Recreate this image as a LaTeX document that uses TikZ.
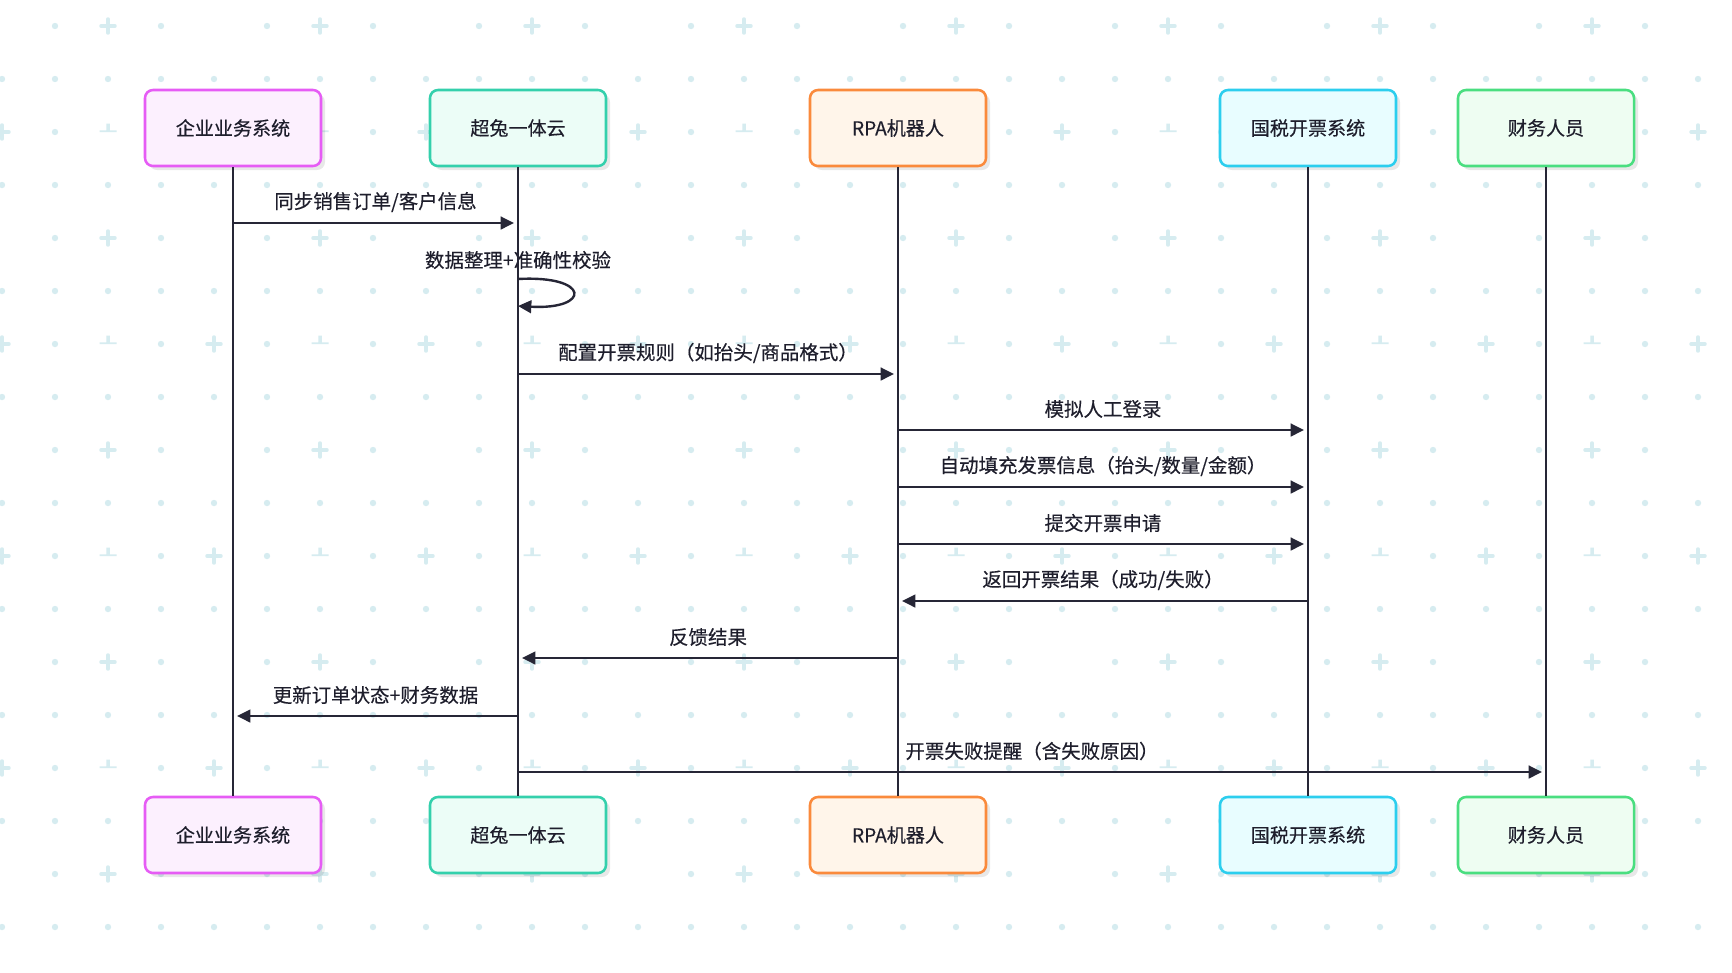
\documentclass[tikz,border=0pt]{standalone}
\usepackage{fontspec}
\newfontfamily\cjk{Noto Sans CJK SC}[FakeBold=0.3]
\usetikzlibrary{arrows.meta,shadows}
\definecolor{pat}{RGB}{214,236,240}
\definecolor{ink}{RGB}{38,38,54}
\definecolor{txt}{RGB}{30,30,44}
\definecolor{c1b}{RGB}{230,92,245}\definecolor{c1f}{RGB}{252,240,254}
\definecolor{c2b}{RGB}{52,208,172}\definecolor{c2f}{RGB}{236,253,247}
\definecolor{c3b}{RGB}{250,138,60}\definecolor{c3f}{RGB}{255,245,234}
\definecolor{c4b}{RGB}{44,206,238}\definecolor{c4f}{RGB}{232,253,255}
\definecolor{c5b}{RGB}{74,222,128}\definecolor{c5f}{RGB}{238,253,242}
\begin{document}
\begin{tikzpicture}[x=0.75pt,y=-0.75pt,
  actor/.style 2 args={draw=#1, fill=#2, line width=1.9pt, rounded corners=6pt,
    minimum width=132pt, minimum height=57pt, inner sep=0pt,
    font=\cjk\fontsize{14.3}{16}\selectfont, text=txt,
    drop shadow={shadow xshift=3pt, shadow yshift=-3pt, fill=black, opacity=0.09}},
  life/.style={draw=ink, line width=1.7pt},
  msg/.style={draw=ink, line width=1.8pt, -{Triangle[length=10pt,width=9.5pt]}, shorten >=3pt},
  lbl/.style={font=\cjk\fontsize{14.6}{16}\selectfont, text=txt, inner sep=0pt},
]
\useasboundingbox (0,0) rectangle (1732,972);
\fill[white] (0,0) rectangle (1732,972);
% background pattern
\foreach \j in {0,...,17}{
  \foreach \k in {0,...,32}{
    \pgfmathtruncatemacro\ptype{isodd(\j) ? 0 : (isodd(\k) ? 0 : (mod(\j,4)==0 ? (mod(\k,4)==2 ? 1 : 2) : (mod(\k,4)==0 ? 1 : 3)))}
    \pgfmathsetmacro\px{2+53*\k}
    \pgfmathsetmacro\py{26+53*\j}
    \ifcase\ptype
      \fill[pat] (\px,\py) circle (2.4pt);
    \or
      \draw[pat, line width=2.6pt, line cap=round] (\px-7,\py) -- (\px+7,\py) (\px,\py-7) -- (\px,\py+7);
    \or
    \or
      \fill[pat] (\px-8.5,\py-1.75) rectangle (\px+8.5,\py) (\px-1.75,\py-8.5) rectangle (\px+1.75,\py);
    \fi
  }
}
% actors
\node[actor={c1b}{c1f}] (t1) at (233,128) {企业业务系统};
\node[actor={c2b}{c2f}] (t2) at (518,128) {超兔一体云};
\node[actor={c3b}{c3f}] (t3) at (898,128) {RPA机器人};
\node[actor={c4b}{c4f}] (t4) at (1308,128) {国税开票系统};
\node[actor={c5b}{c5f}] (t5) at (1546,128) {财务人员};
\node[actor={c1b}{c1f}] (b1) at (233,835) {企业业务系统};
\node[actor={c2b}{c2f}] (b2) at (518,835) {超兔一体云};
\node[actor={c3b}{c3f}] (b3) at (898,835) {RPA机器人};
\node[actor={c4b}{c4f}] (b4) at (1308,835) {国税开票系统};
\node[actor={c5b}{c5f}] (b5) at (1546,835) {财务人员};
% self-loop label (under lifeline)
\node[lbl] (loopl) at (t2 |- 0,260) {数据整理+准确性校验};
% lifelines
\foreach \i in {1,...,5}{\draw[life] (t\i.south) -- (b\i.north);}
% messages
\draw[msg] (t1 |- 0,223) -- node[lbl, midway, yshift=15.75pt] {同步销售订单/客户信息} (t2 |- 0,223);
\draw[msg, shorten >=0pt] (t2 |- 0,279) .. controls +(73,-4) and +(73,4) .. (t2 |- 0,306);
\draw[msg] (t2 |- 0,374) -- node[lbl, midway, yshift=15.75pt] {配置开票规则（如抬头/商品格式）} (t3 |- 0,374);
\draw[msg] (t3 |- 0,430) -- node[lbl, midway, yshift=15.75pt] {模拟人工登录} (t4 |- 0,430);
\draw[msg] (t3 |- 0,487) -- node[lbl, midway, yshift=15.75pt] {自动填充发票信息（抬头/数量/金额）} (t4 |- 0,487);
\draw[msg] (t3 |- 0,544) -- node[lbl, midway, yshift=15.75pt] {提交开票申请} (t4 |- 0,544);
\draw[msg] (t4 |- 0,601) -- node[lbl, midway, yshift=15.75pt] {返回开票结果（成功/失败）} (t3 |- 0,601);
\draw[msg] (t3 |- 0,658) -- node[lbl, midway, yshift=15.75pt] {反馈结果} (t2 |- 0,658);
\draw[msg] (t2 |- 0,716) -- node[lbl, midway, yshift=15.75pt] {更新订单状态+财务数据} (t1 |- 0,716);
\draw[msg] (t2 |- 0,772) -- node[lbl, midway, yshift=15.75pt] {开票失败提醒（含失败原因）} (t5 |- 0,772);
\end{tikzpicture}
\end{document}
